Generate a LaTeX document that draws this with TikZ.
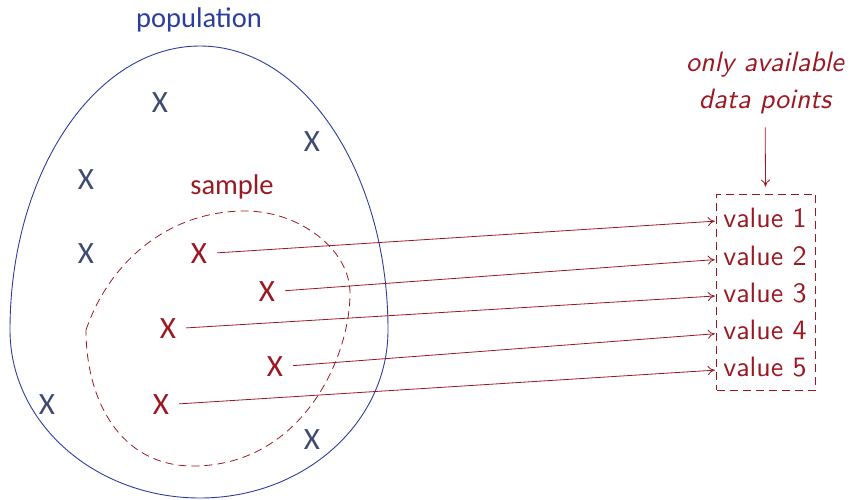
\documentclass[tikz,border=0pt]{standalone}
\usepackage{fontspec}
\newfontfamily\carlito{Carlito}
\newfontfamily\lmsans{lmsans10-regular.otf}[SlantedFont=lmsans10-oblique.otf]
\usepackage{tikz}
\usetikzlibrary{positioning,arrows.meta}

\definecolor{popblue}{RGB}{44,62,156}
\definecolor{xblue}{RGB}{62,74,112}
\definecolor{smpred}{RGB}{155,24,34}

\begin{document}
\begin{tikzpicture}[
    x=1pt, y=-1pt,
    label/.style={font=\carlito\fontsize{28.5}{34}\selectfont},
    xmark/.style={font=\carlito\fontsize{31}{36}\selectfont, inner sep=0pt, inner xsep=10pt},
    popx/.style={xmark, text=xblue},
    smpx/.style={xmark, text=smpred},
    value/.style={font=\lmsans\fontsize{28}{33}\selectfont, text=smpred, minimum width=100pt, inner sep=0pt},
    arrow/.style={-{To[length=7pt,width=9pt]}, smpred, line width=0.8pt},
    dashline/.style={dash pattern=on 8pt off 5pt, smpred, line width=0.8pt}
  ]
    \useasboundingbox (0,0) rectangle (851,500);

    % population and sample
    \draw[popblue, line width=0.9pt] (200,46) .. controls (304,46) and (388,173) .. (388,330)
      .. controls (388,423) and (304,498) .. (200,498)
      .. controls (95,498) and (10,423) .. (10,330)
      .. controls (10,173) and (95,46) .. cycle;
    \node[label, text=popblue] (population) at (199,20) {population};

    \draw[dashline] (86,330) .. controls (110,260) and (170,211) .. (245,211)
      .. controls (300,211) and (350,250) .. (350,293)
      .. controls (350,360) and (300,466) .. (193,466)
      .. controls (120,466) and (86,400) .. cycle;
    \node[label, text=smpred] (sample) at (232,187) {sample};

    % data points
    \node[popx] (p1) at (160,103) {X};
    \node[popx] (p2) at (312,142) {X};
    \node[popx] (p3) at (86,180) {X};
    \node[popx] (p4) at (86,254) {X};
    \node[popx] (p5) at (47,405) {X};
    \node[popx] (p6) at (312,440) {X};

    \node[smpx] (s1) at (199,254) {X};
    \node[smpx] (s2) at (267,292) {X};
    \node[smpx] (s3) at (168,329) {X};
    \node[smpx] (s4) at (275,367) {X};
    \node[smpx] (s5) at (161,405) {X};

    % values
    \node[draw, dashline, minimum width=99pt, minimum height=196pt] (box) at (766,292) {};
    \node[value] (v1) at (765,218) {value 1};
    \node[value] (v2) at (765,256) {value 2};
    \node[value] (v3) at (765,293) {value 3};
    \node[value] (v4) at (765,330) {value 4};
    \node[value] (v5) at (765,367) {value 5};

    \node[font=\lmsans\slshape\fontsize{28}{37}\selectfont, text=smpred, align=center] (note) at (765,83) {only available\\data points};

    \draw[arrow] (s1) -- (v1);
    \draw[arrow] (s2) -- (v2);
    \draw[arrow] (s3) -- (v3);
    \draw[arrow] (s4) -- (v4);
    \draw[arrow] (s5) -- (v5);
    \draw[arrow, shorten <=10pt, shorten >=7pt] (note) -- (box);
  \end{tikzpicture}
\end{document}
